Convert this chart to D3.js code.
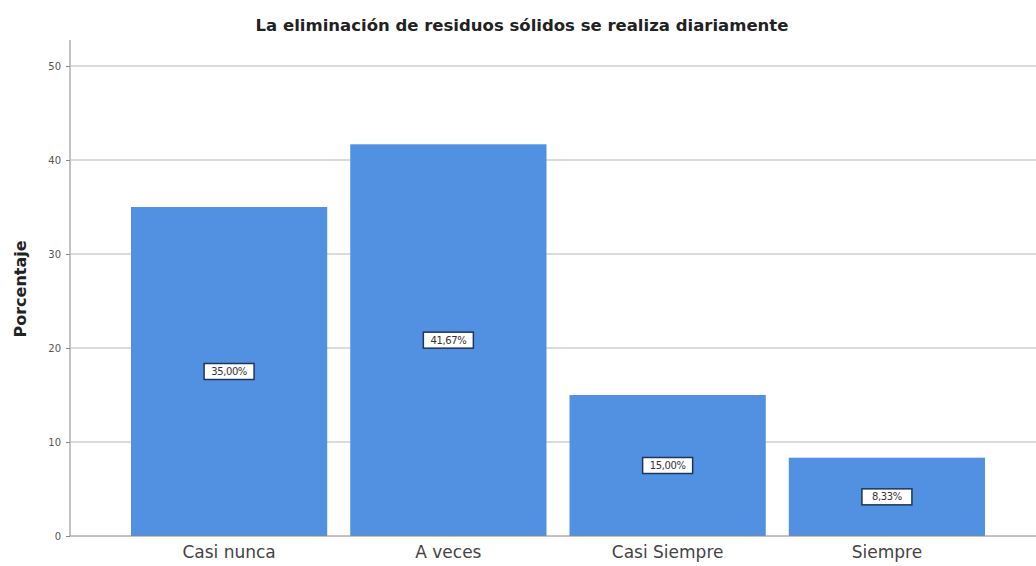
<!DOCTYPE html>
<html>
<head>
<meta charset="utf-8">
<script src="https://cdnjs.cloudflare.com/ajax/libs/d3/7.8.5/d3.min.js"></script>
<style>
  body { margin: 0; background: #fff; }
  svg { display: block; font-family: "DejaVu Sans", Verdana, sans-serif; }
</style>
</head>
<body>
<svg id="chart" width="1036" height="566"></svg>
<script>
// Categories and percentages
var categories = ['Casi nunca', 'A veces', 'Casi Siempre', 'Siempre'];
var values = [35.00, 41.67, 15.00, 8.33];
var labels = ['35,00%', '41,67%', '15,00%', '8,33%'];
var yTicks = [0, 10, 20, 30, 40, 50];

var svg = d3.select('#chart');

// scales
var y = d3.scaleLinear().domain([0, 50]).range([536, 66]);
var x = d3.scaleBand().domain(categories).range([120, 996]).paddingInner(0.105).paddingOuter(0.05);

// gridlines
svg.append('g').selectAll('line').data(yTicks.slice(1)).enter()
  .append('line')
  .attr('x1', 71).attr('x2', 1036)
  .attr('y1', function(d) { return y(d); })
  .attr('y2', function(d) { return y(d); })
  .attr('stroke', '#cfcfcf').attr('stroke-width', 1.5);

// bars
var data = categories.map(function(c, i) { return {cat: c, val: values[i], lab: labels[i]}; });

svg.append('g').selectAll('rect').data(data).enter()
  .append('rect')
  .attr('x', function(d) { return x(d.cat); })
  .attr('y', function(d) { return y(d.val); })
  .attr('width', x.bandwidth())
  .attr('height', function(d) { return y(0) - y(d.val); })
  .attr('fill', '#5291e2');

// y axis
var yAxis = d3.axisLeft(y).tickValues(yTicks).tickSize(4).tickPadding(5);
var gy = svg.append('g').attr('transform', 'translate(70,0)').call(yAxis);
gy.select('.domain').attr('stroke', '#888').attr('d', 'M0,40V536');
gy.selectAll('.tick line').attr('stroke', '#888');
gy.selectAll('.tick text').attr('fill', '#555').style('font-size', '10px').style('font-family', '"DejaVu Sans", sans-serif');

// x axis
var xAxis = d3.axisBottom(x).tickSize(0).tickPadding(10);
var gx = svg.append('g').attr('transform', 'translate(0,536)').call(xAxis);
gx.select('.domain').attr('stroke', '#888').attr('d', 'M70,0H1036');
gx.selectAll('.tick text').attr('fill', '#444').style('font-size', '17px').style('font-family', '"DejaVu Sans", sans-serif');

// value labels
var lg = svg.append('g').selectAll('g').data(data).enter()
  .append('g')
  .attr('transform', function(d) {
    return 'translate(' + (x(d.cat) + x.bandwidth() / 2) + ',' + y(d.val / 2) + ')';
  });
lg.append('rect')
  .attr('x', -25).attr('y', -8).attr('width', 50).attr('height', 16)
  .attr('fill', '#fff').attr('stroke', '#1d3557').attr('stroke-width', 1.5);
lg.append('text')
  .attr('text-anchor', 'middle').attr('dy', '0.35em')
  .style('font-size', '10px').style('letter-spacing', '-0.4px').attr('fill', '#333')
  .text(function(d) { return d.lab; });

// title
svg.append('text')
  .attr('x', 522).attr('y', 31)
  .attr('text-anchor', 'middle')
  .style('font-size', '16.5px').style('font-weight', 'bold').attr('fill', '#222')
  .text('La eliminación de residuos sólidos se realiza diariamente');

// y label
svg.append('text')
  .attr('transform', 'translate(26,289) rotate(-90)')
  .attr('text-anchor', 'middle')
  .style('font-size', '16px').style('font-weight', 'bold').attr('fill', '#222')
  .text('Porcentaje');
</script>
</body>
</html>
